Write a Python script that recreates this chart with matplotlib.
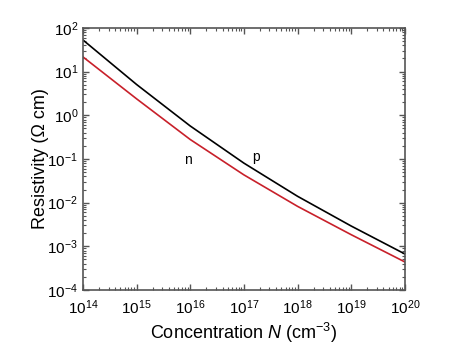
import numpy as np
import matplotlib
matplotlib.use("Agg")
import matplotlib.pyplot as plt
from matplotlib.ticker import LogLocator, NullFormatter

# ── DATA ─────────────────────────────────────────────────────────────────────

conc = [1e14, 1e15, 1e16, 1e17, 1e18, 1e19, 1e20]              # cm^-3
rho_p = [53.0, 5.07, 0.569, 0.0804, 0.0140, 0.00292, 6.7e-4]   # Ω cm
rho_n = [21.7, 2.38, 0.279, 0.0433, 0.00824, 0.00185, 4.4e-4]  # Ω cm

# ── STYLE ────────────────────────────────────────────────────────────────────

plt.rcParams["font.family"] = ["Liberation Sans", "DejaVu Sans"]
plt.rcParams["mathtext.fontset"] = "custom"
plt.rcParams["mathtext.rm"] = "Liberation Sans"
plt.rcParams["mathtext.it"] = "Liberation Sans:italic"
plt.rcParams["mathtext.default"] = "regular"

FRAME = "#555555"

fig = plt.figure(figsize=(4.74, 3.49), dpi=100)
ax = fig.add_axes([0.175, 0.169, 0.679, 0.751])

ax.plot(conc, rho_p, color="black", lw=1.2)
ax.plot(conc, rho_n, color="#c8202a", lw=1.2)

ax.set_xscale("log")
ax.set_yscale("log")
ax.set_xlim(1e14, 1e20)
ax.set_ylim(1e-4, 1e2)

ax.text(9e15, 0.095, "n", fontsize=10, ha="center", va="center")
ax.text(1.7e17, 0.11, "p", fontsize=10, ha="center", va="center")

ax.set_xlabel("Concentration $\\it{N}$ (cm$^{-3}$)", fontsize=13, labelpad=3)
ax.set_ylabel("Resistivity (Ω cm)", fontsize=13, labelpad=-1)

ax.xaxis.set_major_locator(LogLocator(base=10, numticks=10))
ax.yaxis.set_major_locator(LogLocator(base=10, numticks=10))
ax.xaxis.set_minor_locator(LogLocator(base=10, subs=np.arange(2, 10), numticks=10))
ax.yaxis.set_minor_locator(LogLocator(base=10, subs=np.arange(2, 10), numticks=10))
ax.xaxis.set_minor_formatter(NullFormatter())
ax.yaxis.set_minor_formatter(NullFormatter())

ax.tick_params(which="both", direction="in", top=True, right=True,
               color=FRAME, labelsize=11)
ax.tick_params(which="major", length=4, width=1)
ax.tick_params(which="minor", length=2, width=0.8)
ax.tick_params(axis="x", pad=6)

for sp in ax.spines.values():
    sp.set_color(FRAME)
    sp.set_linewidth(1.2)

fig.savefig("out.png", dpi=100)
